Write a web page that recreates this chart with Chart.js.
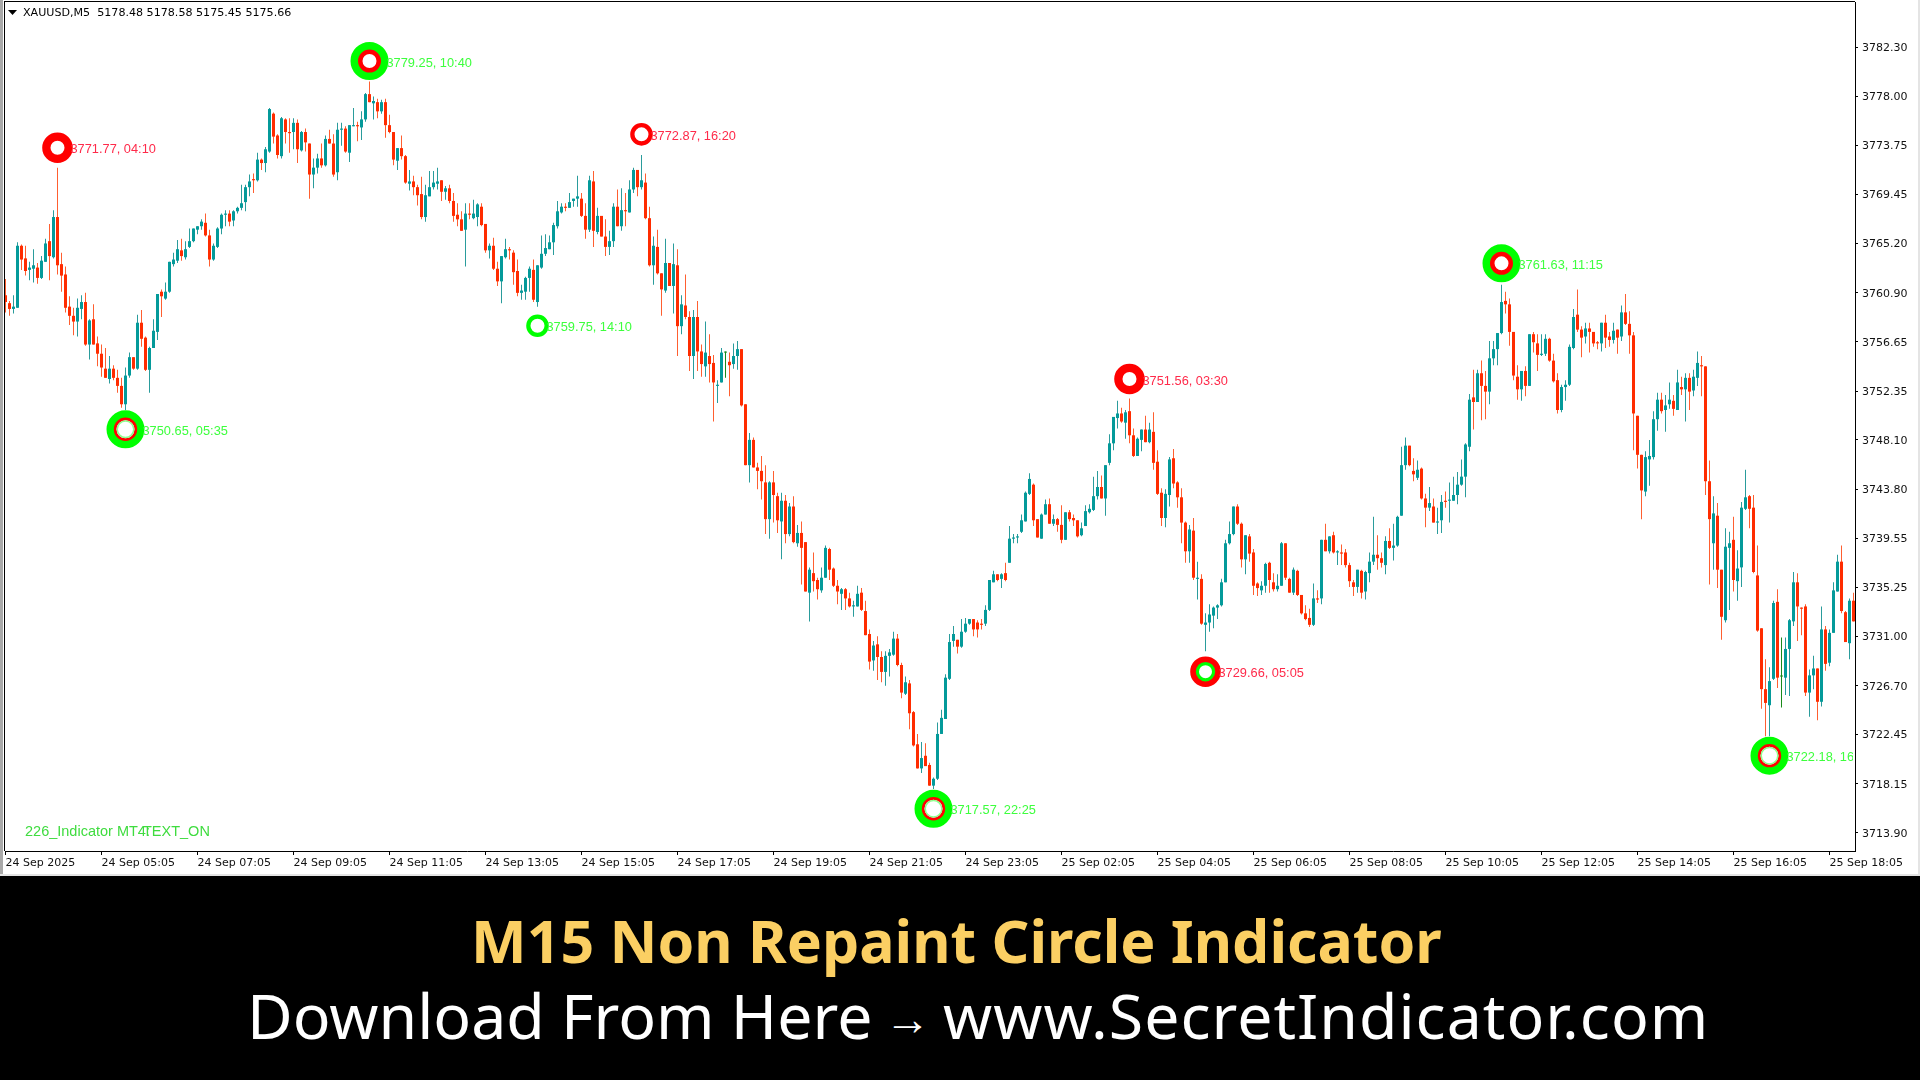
<!DOCTYPE html>
<html>
<head>
<meta charset="utf-8">
<title>M15 Non Repaint Circle Indicator</title>
<script src="https://cdn.jsdelivr.net/npm/chart.js@4"></script>
<style>
	html, body { margin: 0; padding: 0; width: 1920px; height: 1080px; overflow: hidden; background: #fff; }
	#chart { display: block; }
	#banner { position: absolute; left: 0; top: 876px; width: 1920px; height: 204px; background: #000; font-family: "Noto Sans", sans-serif; }
	#banner div { position: absolute; white-space: nowrap; }
	#title { left: 471px; top: 26px; font-size: 59px; line-height: 76px; font-weight: 700; color: #fbcf63; }
	#subtitle { left: 247px; top: 99px; font-size: 62.6px; line-height: 80px; font-weight: 400; color: #fff; }
	#subtitle .arrow { font-size: 46px; font-weight: 700; position: relative; top: -4px; margin: 0 -4px; }
	#subtitle .url { letter-spacing: 1px; }
</style>
</head>
<body>
<canvas id="chart" width="1920" height="876"></canvas>
<div id="banner">
	<div id="title">M15 Non Repaint Circle Indicator</div>
	<div id="subtitle">Download From Here <span class="arrow">→</span> <span class="url">www.SecretIndicator.com</span></div>
</div>
<script>
// XAUUSD M5 prices, one entry per bar
const highs = [
	3762.1, 3760.2, 3760.7, 3765.3, 3765.1, 3765.0, 3763.6, 3764.7, 3763.5, 3764.1,
	3765.6, 3766.9, 3768.1, 3771.8, 3764.4, 3763.2, 3760.6, 3759.6, 3760.4, 3760.7,
	3760.9, 3758.6, 3759.9, 3757.1, 3756.4, 3756.1, 3755.4, 3754.6, 3754.2, 3753.5,
	3754.4, 3755.7, 3755.3, 3759.0, 3759.4, 3757.1, 3756.2, 3758.6, 3760.8, 3761.2,
	3761.8, 3763.6, 3764.4, 3765.5, 3765.6, 3765.4, 3766.5, 3766.5, 3766.7, 3767.3,
	3767.8, 3766.4, 3765.2, 3766.6, 3767.8, 3768.1, 3768.1, 3768.1, 3768.4, 3770.3,
	3770.3, 3771.2, 3771.3, 3773.1, 3772.6, 3773.6, 3777.0, 3776.6, 3774.7, 3776.2,
	3776.1, 3776.1, 3776.1, 3776.0, 3775.0, 3775.2, 3773.9, 3772.6, 3773.0, 3773.9,
	3774.6, 3775.1, 3774.7, 3775.7, 3775.7, 3775.4, 3775.5, 3777.0, 3775.8, 3776.7,
	3778.3, 3779.3, 3778.0, 3777.8, 3777.7, 3777.8, 3776.4, 3774.9, 3773.5, 3774.6,
	3772.9, 3771.6, 3771.1, 3770.3, 3771.0, 3770.3, 3771.5, 3771.5, 3771.8, 3770.7,
	3770.2, 3770.3, 3769.6, 3768.7, 3768.0, 3768.7, 3768.7, 3769.0, 3768.7, 3768.7,
	3766.9, 3765.2, 3765.7, 3763.6, 3764.1, 3765.6, 3764.9, 3764.6, 3763.8, 3761.6,
	3762.3, 3763.2, 3763.8, 3763.3, 3765.9, 3766.0, 3765.9, 3767.0, 3768.9, 3768.7,
	3768.7, 3769.6, 3769.1, 3771.1, 3769.6, 3768.7, 3771.1, 3771.5, 3768.3, 3767.6,
	3767.3, 3766.3, 3768.7, 3769.9, 3770.0, 3769.6, 3770.7, 3771.8, 3771.6, 3772.9,
	3771.3, 3768.4, 3765.8, 3766.4, 3762.6, 3765.6, 3763.5, 3765.2, 3764.7, 3760.7,
	3762.5, 3759.3, 3759.4, 3760.2, 3756.4, 3758.4, 3757.3, 3755.5, 3753.3, 3756.1,
	3755.8, 3755.7, 3756.5, 3756.7, 3756.0, 3751.2, 3748.7, 3748.3, 3746.1, 3746.7,
	3745.9, 3744.5, 3745.4, 3743.5, 3743.5, 3743.3, 3742.6, 3743.2, 3740.7, 3741.0,
	3739.2, 3737.0, 3738.3, 3736.1, 3737.0, 3738.9, 3738.7, 3737.0, 3735.9, 3735.2,
	3735.2, 3734.8, 3734.1, 3735.4, 3735.2, 3734.1, 3731.6, 3730.6, 3731.0, 3729.7,
	3729.7, 3729.9, 3731.4, 3731.2, 3728.7, 3727.5, 3727.2, 3724.5, 3722.5, 3721.8,
	3721.7, 3720.0, 3718.7, 3723.5, 3724.6, 3727.7, 3731.2, 3731.9, 3730.7, 3732.5,
	3732.6, 3732.5, 3732.5, 3732.4, 3732.5, 3733.7, 3735.9, 3736.7, 3736.4, 3736.5,
	3737.4, 3740.6, 3739.9, 3739.9, 3741.6, 3743.6, 3745.2, 3744.3, 3741.2, 3741.7,
	3742.9, 3743.0, 3741.6, 3741.3, 3742.4, 3741.8, 3742.0, 3741.6, 3741.1, 3740.9,
	3742.4, 3742.5, 3744.9, 3745.4, 3745.0, 3745.9, 3748.6, 3750.1, 3751.5, 3750.9,
	3750.7, 3751.7, 3749.1, 3748.3, 3749.0, 3750.2, 3749.6, 3750.5, 3747.2, 3743.9,
	3743.8, 3746.6, 3747.3, 3744.5, 3743.9, 3741.0, 3740.7, 3741.3, 3737.5, 3736.4,
	3733.0, 3733.8, 3733.6, 3733.8, 3736.0, 3739.4, 3741.0, 3742.3, 3742.5, 3740.9,
	3739.8, 3739.9, 3738.6, 3735.7, 3735.8, 3737.4, 3737.5, 3736.5, 3736.4, 3739.2,
	3739.1, 3736.1, 3737.0, 3736.8, 3734.6, 3733.7, 3733.4, 3735.6, 3735.0, 3739.4,
	3740.8, 3739.7, 3740.1, 3738.5, 3739.0, 3738.6, 3737.4, 3735.9, 3736.8, 3736.8,
	3736.7, 3738.3, 3741.4, 3739.8, 3738.3, 3739.7, 3740.4, 3740.8, 3741.5, 3747.5,
	3748.3, 3747.6, 3746.5, 3746.3, 3745.7, 3743.4, 3744.0, 3743.0, 3742.2, 3743.3,
	3743.6, 3744.4, 3744.9, 3745.3, 3746.4, 3747.8, 3752.1, 3754.2, 3754.2, 3755.0,
	3754.1, 3756.7, 3756.7, 3757.4, 3761.6, 3761.0, 3760.4, 3757.5, 3754.6, 3754.1,
	3754.5, 3757.3, 3757.5, 3757.3, 3757.3, 3757.3, 3757.0, 3755.6, 3753.9, 3752.9,
	3753.3, 3756.4, 3759.5, 3761.2, 3758.0, 3758.3, 3758.3, 3757.5, 3756.7, 3758.3,
	3759.0, 3757.5, 3758.3, 3757.7, 3759.8, 3760.8, 3759.3, 3757.5, 3750.2, 3746.8,
	3747.1, 3748.1, 3750.6, 3752.2, 3752.2, 3752.0, 3753.1, 3752.0, 3754.2, 3753.6,
	3753.9, 3753.9, 3754.2, 3755.8, 3755.4, 3754.5, 3746.3, 3743.2, 3742.6, 3736.8,
	3740.4, 3740.1, 3741.4, 3738.5, 3742.7, 3745.5, 3743.3, 3743.3, 3738.9, 3731.7,
	3729.0, 3728.3, 3734.1, 3735.1, 3730.9, 3730.9, 3732.5, 3736.6, 3736.5, 3733.5,
	3733.8, 3728.1, 3729.3, 3728.2, 3733.6, 3731.9, 3731.6, 3735.7, 3738.1, 3738.9,
	3733.2, 3734.3, 3734.8
];
const lows = [
	3759.2, 3758.9, 3759.1, 3759.6, 3762.9, 3762.4, 3762.0, 3761.8, 3761.7, 3762.1,
	3763.6, 3762.0, 3763.9, 3762.5, 3761.0, 3759.2, 3758.1, 3757.2, 3757.1, 3758.6,
	3756.3, 3755.1, 3756.4, 3754.5, 3753.6, 3753.5, 3753.0, 3753.3, 3752.2, 3750.9,
	3750.7, 3753.5, 3754.2, 3754.2, 3756.2, 3754.1, 3752.2, 3756.1, 3756.8, 3758.8,
	3760.3, 3760.9, 3763.2, 3763.5, 3763.7, 3763.8, 3764.8, 3765.3, 3766.0, 3766.4,
	3765.8, 3763.2, 3763.7, 3764.8, 3766.0, 3766.7, 3766.7, 3766.7, 3767.8, 3768.1,
	3768.0, 3769.3, 3769.6, 3770.6, 3771.6, 3771.4, 3773.1, 3773.9, 3772.6, 3772.6,
	3773.9, 3773.1, 3773.4, 3772.2, 3773.2, 3773.2, 3769.1, 3770.0, 3771.3, 3771.8,
	3771.9, 3773.9, 3771.0, 3770.7, 3773.7, 3773.1, 3772.3, 3775.4, 3774.1, 3774.2,
	3775.8, 3777.5, 3776.0, 3776.1, 3776.5, 3774.4, 3774.8, 3772.0, 3771.6, 3772.5,
	3770.4, 3769.8, 3769.4, 3768.5, 3767.3, 3767.1, 3769.3, 3769.9, 3769.9, 3768.9,
	3769.0, 3768.7, 3767.1, 3766.7, 3766.3, 3763.2, 3767.3, 3767.3, 3766.7, 3766.7,
	3764.4, 3763.9, 3762.9, 3761.5, 3760.0, 3763.9, 3763.8, 3761.6, 3760.6, 3760.3,
	3760.3, 3761.0, 3760.1, 3759.7, 3763.0, 3764.1, 3764.7, 3764.2, 3766.5, 3767.8,
	3768.0, 3768.3, 3768.4, 3768.4, 3767.5, 3765.6, 3766.2, 3764.9, 3766.0, 3765.8,
	3764.1, 3764.2, 3764.9, 3766.7, 3766.3, 3766.7, 3767.9, 3769.6, 3769.3, 3769.9,
	3767.3, 3763.2, 3761.6, 3762.5, 3758.9, 3760.9, 3761.5, 3759.1, 3755.4, 3757.3,
	3758.6, 3754.1, 3753.4, 3754.1, 3753.6, 3753.6, 3753.1, 3749.7, 3751.3, 3753.1,
	3753.5, 3751.9, 3754.3, 3754.2, 3751.0, 3745.9, 3744.4, 3745.7, 3743.8, 3742.9,
	3739.9, 3739.5, 3740.9, 3740.0, 3737.7, 3739.1, 3739.7, 3739.1, 3738.8, 3735.5,
	3734.9, 3732.3, 3734.9, 3734.2, 3734.8, 3736.1, 3735.9, 3735.3, 3733.8, 3733.3,
	3733.3, 3733.5, 3732.7, 3733.6, 3733.2, 3731.1, 3728.1, 3728.0, 3727.2, 3727.0,
	3726.7, 3727.5, 3729.3, 3728.4, 3725.6, 3725.9, 3722.9, 3721.4, 3719.5, 3719.1,
	3719.7, 3718.0, 3717.7, 3718.5, 3722.5, 3723.8, 3727.2, 3730.1, 3729.5, 3730.0,
	3731.3, 3732.0, 3731.0, 3730.9, 3731.6, 3731.9, 3733.2, 3735.7, 3735.8, 3735.2,
	3735.8, 3737.4, 3739.1, 3739.1, 3740.0, 3741.0, 3743.3, 3740.6, 3739.6, 3739.5,
	3741.6, 3740.8, 3740.6, 3740.1, 3739.1, 3739.4, 3741.0, 3740.6, 3739.6, 3739.7,
	3740.6, 3741.7, 3741.9, 3742.9, 3743.0, 3741.5, 3745.9, 3747.2, 3749.1, 3749.6,
	3748.2, 3747.8, 3746.6, 3746.7, 3747.1, 3747.9, 3747.8, 3745.5, 3743.3, 3740.6,
	3740.5, 3742.3, 3743.9, 3742.2, 3739.1, 3737.4, 3737.4, 3735.9, 3734.2, 3732.0,
	3729.7, 3731.4, 3731.7, 3732.5, 3733.6, 3735.7, 3739.0, 3739.8, 3740.7, 3737.0,
	3736.4, 3737.5, 3734.6, 3734.5, 3734.6, 3734.8, 3734.8, 3734.9, 3734.9, 3735.4,
	3735.9, 3734.8, 3734.6, 3734.5, 3732.9, 3732.4, 3731.8, 3731.9, 3733.9, 3733.8,
	3738.4, 3738.2, 3738.2, 3737.2, 3737.2, 3737.0, 3735.3, 3734.5, 3734.8, 3734.3,
	3734.2, 3735.7, 3737.2, 3736.8, 3737.0, 3736.4, 3738.6, 3737.6, 3738.8, 3741.5,
	3745.5, 3745.8, 3744.5, 3744.6, 3742.9, 3740.5, 3741.9, 3740.9, 3739.9, 3740.0,
	3742.2, 3740.9, 3742.8, 3742.5, 3744.1, 3743.1, 3747.1, 3749.0, 3751.4, 3749.8,
	3749.9, 3751.2, 3754.6, 3754.6, 3757.3, 3759.1, 3756.3, 3753.3, 3751.6, 3751.5,
	3751.9, 3752.8, 3755.7, 3754.1, 3755.4, 3755.4, 3754.9, 3753.1, 3750.4, 3750.5,
	3751.5, 3752.8, 3756.0, 3757.5, 3755.3, 3756.5, 3755.7, 3756.2, 3756.0, 3755.8,
	3756.1, 3756.2, 3756.5, 3755.6, 3756.7, 3758.1, 3755.6, 3747.2, 3745.6, 3741.2,
	3743.2, 3744.1, 3746.4, 3748.9, 3750.4, 3748.8, 3750.8, 3750.2, 3750.7, 3752.0,
	3749.7, 3750.7, 3751.9, 3752.8, 3751.9, 3743.3, 3735.5, 3736.8, 3735.2, 3730.7,
	3732.2, 3733.3, 3734.9, 3734.1, 3735.3, 3742.0, 3740.4, 3736.5, 3731.4, 3724.7,
	3722.3, 3722.3, 3727.2, 3726.5, 3724.8, 3725.9, 3725.8, 3731.9, 3730.6, 3731.1,
	3725.8, 3724.0, 3726.4, 3723.7, 3724.9, 3728.0, 3728.4, 3731.3, 3734.9, 3733.0,
	3730.5, 3729.0, 3732.3
];
const opens = [
	3760.7, 3760.0, 3759.5, 3759.6, 3765.0, 3763.9, 3762.9, 3763.0, 3763.1, 3762.2,
	3763.6, 3765.4, 3764.0, 3767.5, 3763.4, 3762.5, 3759.7, 3758.9, 3758.4, 3759.5,
	3760.1, 3756.4, 3758.6, 3756.5, 3755.6, 3754.3, 3753.4, 3754.3, 3753.5, 3752.8,
	3751.2, 3753.7, 3755.3, 3754.3, 3758.3, 3757.0, 3754.2, 3756.1, 3757.5, 3761.0,
	3760.4, 3761.0, 3763.4, 3763.7, 3764.6, 3764.0, 3764.9, 3765.4, 3766.4, 3766.7,
	3767.0, 3765.9, 3763.8, 3764.9, 3766.5, 3767.7, 3767.8, 3767.2, 3768.0, 3768.3,
	3768.8, 3770.1, 3770.8, 3770.7, 3772.5, 3772.2, 3773.2, 3776.5, 3774.6, 3772.8,
	3776.0, 3774.9, 3774.9, 3775.7, 3773.3, 3774.9, 3773.9, 3771.2, 3771.8, 3772.6,
	3772.0, 3774.3, 3773.9, 3771.4, 3775.1, 3775.2, 3773.1, 3775.4, 3775.5, 3775.3,
	3776.0, 3778.2, 3777.4, 3777.5, 3776.7, 3777.5, 3775.5, 3774.9, 3772.4, 3773.5,
	3772.8, 3770.4, 3770.6, 3770.1, 3769.5, 3767.5, 3769.3, 3770.1, 3770.4, 3770.7,
	3769.7, 3770.0, 3768.9, 3767.7, 3767.3, 3766.4, 3767.8, 3767.4, 3767.5, 3768.4,
	3766.9, 3764.6, 3765.0, 3763.0, 3761.9, 3764.0, 3764.7, 3764.4, 3762.8, 3760.9,
	3761.0, 3762.2, 3762.9, 3760.1, 3763.1, 3764.3, 3764.7, 3765.3, 3766.7, 3767.9,
	3768.4, 3768.3, 3768.9, 3769.1, 3769.1, 3767.6, 3766.4, 3770.6, 3766.2, 3767.6,
	3765.8, 3764.9, 3765.4, 3768.4, 3766.7, 3768.1, 3767.9, 3769.9, 3771.6, 3770.1,
	3770.5, 3767.4, 3763.3, 3764.9, 3762.6, 3761.1, 3763.5, 3761.5, 3763.3, 3758.0,
	3759.8, 3758.8, 3755.4, 3758.8, 3755.8, 3754.5, 3755.4, 3754.8, 3752.8, 3753.1,
	3755.7, 3754.9, 3754.7, 3755.4, 3756.0, 3751.2, 3745.9, 3748.1, 3745.7, 3745.4,
	3744.4, 3741.2, 3744.4, 3743.2, 3741.0, 3742.8, 3739.9, 3742.3, 3739.1, 3740.0,
	3739.2, 3734.8, 3736.5, 3735.9, 3735.0, 3736.1, 3738.6, 3736.9, 3735.4, 3734.7,
	3735.1, 3734.3, 3733.6, 3733.6, 3734.8, 3733.2, 3731.2, 3728.9, 3730.3, 3729.2,
	3727.9, 3729.3, 3729.4, 3730.8, 3728.5, 3726.0, 3726.9, 3724.4, 3721.6, 3719.5,
	3720.6, 3719.8, 3718.0, 3718.6, 3722.5, 3723.8, 3727.3, 3730.6, 3730.7, 3730.1,
	3731.4, 3732.1, 3732.5, 3732.2, 3732.1, 3732.1, 3733.3, 3735.7, 3736.4, 3736.0,
	3736.5, 3737.4, 3739.5, 3739.6, 3740.1, 3741.0, 3743.4, 3744.2, 3741.2, 3739.5,
	3741.6, 3742.5, 3740.8, 3741.2, 3740.7, 3739.4, 3741.8, 3741.3, 3741.1, 3739.8,
	3740.6, 3741.8, 3742.0, 3743.2, 3744.0, 3743.0, 3746.1, 3747.8, 3750.0, 3750.4,
	3749.6, 3750.6, 3748.5, 3746.7, 3748.1, 3749.0, 3747.9, 3748.8, 3746.2, 3743.5,
	3741.3, 3743.3, 3746.5, 3744.4, 3743.1, 3740.9, 3738.4, 3740.2, 3736.0, 3736.0,
	3732.0, 3732.2, 3732.8, 3733.5, 3733.7, 3735.7, 3739.1, 3739.9, 3742.3, 3740.8,
	3737.7, 3739.7, 3738.3, 3735.6, 3735.0, 3735.4, 3737.4, 3735.7, 3735.1, 3735.4,
	3739.1, 3736.0, 3734.8, 3736.7, 3734.6, 3733.0, 3732.6, 3732.0, 3734.3, 3734.3,
	3739.4, 3738.4, 3739.8, 3738.3, 3738.3, 3738.3, 3737.2, 3735.7, 3735.3, 3736.7,
	3734.9, 3736.5, 3737.5, 3738.1, 3737.8, 3737.2, 3739.3, 3738.7, 3738.9, 3741.5,
	3745.9, 3747.6, 3745.4, 3744.8, 3745.6, 3743.0, 3742.2, 3742.3, 3740.9, 3741.1,
	3742.8, 3742.8, 3742.8, 3743.3, 3744.2, 3744.9, 3747.5, 3751.8, 3751.4, 3753.9,
	3752.8, 3752.3, 3755.2, 3756.0, 3757.4, 3760.2, 3759.9, 3757.5, 3753.6, 3752.5,
	3754.1, 3752.8, 3757.3, 3756.5, 3755.5, 3755.6, 3756.9, 3755.0, 3753.3, 3750.7,
	3752.7, 3752.9, 3756.1, 3759.0, 3757.7, 3757.1, 3757.8, 3757.5, 3756.6, 3756.5,
	3758.3, 3757.1, 3756.8, 3757.7, 3757.1, 3759.2, 3758.2, 3757.2, 3750.2, 3746.8,
	3743.6, 3746.4, 3746.6, 3749.9, 3751.6, 3750.7, 3751.2, 3751.5, 3750.7, 3752.7,
	3752.5, 3753.5, 3752.4, 3753.5, 3754.6, 3754.5, 3744.5, 3739.1, 3741.5, 3736.8,
	3732.4, 3738.7, 3739.4, 3735.8, 3737.0, 3742.1, 3743.2, 3742.2, 3736.3, 3731.7,
	3726.4, 3725.0, 3727.3, 3734.0, 3727.5, 3727.4, 3729.9, 3732.3, 3735.7, 3733.5,
	3733.6, 3726.1, 3727.6, 3728.2, 3725.3, 3731.6, 3728.7, 3731.3, 3734.9, 3737.5,
	3733.1, 3730.4, 3734.1
];
const closes = [
	3760.1, 3759.5, 3759.7, 3765.0, 3763.8, 3762.8, 3763.1, 3763.3, 3762.2, 3763.7,
	3765.2, 3764.1, 3767.5, 3763.3, 3762.4, 3759.6, 3758.9, 3758.4, 3759.6, 3760.1,
	3756.4, 3758.5, 3756.4, 3755.6, 3754.4, 3753.5, 3754.3, 3753.5, 3752.8, 3751.2,
	3753.7, 3755.3, 3754.3, 3758.3, 3756.9, 3754.2, 3756.1, 3757.6, 3760.8, 3760.6,
	3761.0, 3763.6, 3763.8, 3764.7, 3764.1, 3764.7, 3765.4, 3766.5, 3766.7, 3767.1,
	3765.9, 3763.8, 3765.0, 3766.5, 3767.7, 3767.8, 3767.1, 3768.0, 3768.3, 3768.7,
	3770.1, 3770.6, 3770.7, 3772.5, 3772.2, 3773.4, 3776.9, 3774.5, 3772.9, 3776.1,
	3774.9, 3774.8, 3775.7, 3773.4, 3774.9, 3774.0, 3771.2, 3771.8, 3772.6, 3772.0,
	3774.3, 3773.9, 3771.2, 3775.1, 3775.2, 3773.2, 3775.5, 3775.5, 3775.4, 3776.0,
	3778.2, 3777.5, 3777.6, 3776.7, 3777.5, 3775.5, 3774.9, 3772.5, 3773.5, 3772.8,
	3770.5, 3770.6, 3770.1, 3769.4, 3767.5, 3769.4, 3770.1, 3770.5, 3770.6, 3769.7,
	3770.0, 3768.9, 3767.6, 3767.3, 3766.3, 3767.8, 3767.7, 3767.8, 3768.6, 3766.8,
	3764.6, 3765.0, 3763.0, 3761.9, 3764.1, 3764.7, 3764.6, 3762.7, 3760.9, 3761.1,
	3762.2, 3763.0, 3760.3, 3763.3, 3764.3, 3764.8, 3765.3, 3766.8, 3768.0, 3768.4,
	3768.3, 3768.8, 3769.1, 3769.3, 3767.6, 3766.4, 3770.7, 3766.3, 3767.6, 3765.8,
	3764.9, 3765.4, 3768.4, 3766.7, 3768.1, 3768.0, 3769.9, 3771.6, 3770.1, 3770.7,
	3767.4, 3763.3, 3765.0, 3762.6, 3761.2, 3763.5, 3761.5, 3763.4, 3758.0, 3759.9,
	3758.8, 3755.4, 3758.8, 3755.8, 3754.7, 3755.7, 3754.7, 3753.1, 3752.9, 3755.7,
	3755.7, 3754.6, 3755.4, 3756.0, 3751.1, 3745.9, 3748.1, 3745.7, 3745.4, 3744.5,
	3741.2, 3744.4, 3743.3, 3741.1, 3742.8, 3739.9, 3742.3, 3739.2, 3740.0, 3738.7,
	3734.9, 3736.8, 3735.8, 3735.1, 3736.1, 3738.7, 3736.8, 3735.4, 3734.9, 3735.1,
	3734.3, 3733.6, 3733.7, 3734.7, 3733.3, 3731.1, 3728.8, 3730.2, 3729.2, 3727.9,
	3729.3, 3729.6, 3730.8, 3728.5, 3726.1, 3727.0, 3724.3, 3721.5, 3719.5, 3720.4,
	3719.7, 3718.0, 3718.6, 3722.5, 3723.9, 3727.4, 3730.5, 3731.2, 3730.1, 3731.4,
	3732.1, 3732.5, 3731.6, 3731.6, 3732.0, 3733.3, 3735.9, 3736.4, 3735.9, 3736.4,
	3735.9, 3739.5, 3739.6, 3739.7, 3741.1, 3743.5, 3744.7, 3741.1, 3739.6, 3741.6,
	3742.5, 3740.8, 3741.2, 3740.7, 3739.4, 3741.8, 3741.2, 3741.1, 3739.7, 3740.4,
	3741.9, 3742.1, 3743.2, 3744.0, 3743.0, 3745.9, 3747.8, 3750.1, 3750.4, 3749.7,
	3750.5, 3748.5, 3746.7, 3748.2, 3749.0, 3747.9, 3749.0, 3746.1, 3743.4, 3741.3,
	3743.4, 3746.4, 3744.3, 3743.1, 3740.9, 3738.4, 3740.3, 3736.1, 3736.1, 3732.1,
	3732.2, 3732.9, 3733.5, 3733.7, 3735.7, 3739.1, 3739.9, 3742.3, 3740.8, 3737.7,
	3739.8, 3738.2, 3735.4, 3735.2, 3735.4, 3737.3, 3735.9, 3735.1, 3735.4, 3739.1,
	3736.1, 3734.8, 3736.8, 3734.6, 3733.0, 3732.5, 3732.0, 3734.3, 3734.2, 3739.4,
	3738.4, 3739.7, 3738.3, 3738.4, 3738.2, 3737.2, 3735.8, 3735.3, 3736.8, 3734.8,
	3736.6, 3737.5, 3738.1, 3737.8, 3737.4, 3739.3, 3738.7, 3738.9, 3741.4, 3745.9,
	3747.6, 3745.9, 3745.1, 3745.5, 3743.0, 3742.2, 3742.6, 3740.9, 3741.0, 3742.7,
	3742.7, 3742.9, 3743.3, 3744.2, 3744.9, 3747.7, 3751.6, 3751.4, 3753.9, 3752.8,
	3752.3, 3755.2, 3756.0, 3757.4, 3760.1, 3759.9, 3757.5, 3753.7, 3752.5, 3754.1,
	3752.8, 3757.3, 3756.6, 3755.5, 3755.6, 3756.9, 3755.0, 3753.2, 3750.7, 3752.7,
	3752.9, 3756.2, 3758.8, 3757.7, 3757.0, 3757.8, 3757.5, 3756.5, 3756.5, 3758.3,
	3757.0, 3756.8, 3757.6, 3757.0, 3759.2, 3758.2, 3757.2, 3750.4, 3746.8, 3743.7,
	3746.6, 3746.7, 3749.9, 3751.6, 3750.6, 3751.1, 3751.6, 3750.8, 3753.1, 3752.5,
	3753.5, 3752.3, 3753.6, 3754.8, 3754.5, 3744.5, 3741.2, 3741.7, 3736.8, 3732.7,
	3738.8, 3739.1, 3735.9, 3736.9, 3742.2, 3743.1, 3742.1, 3736.6, 3731.5, 3726.4,
	3725.2, 3727.1, 3733.9, 3727.4, 3727.5, 3729.9, 3732.4, 3735.7, 3733.6, 3733.4,
	3726.1, 3727.6, 3728.2, 3725.3, 3731.6, 3728.6, 3731.3, 3735.0, 3737.5, 3733.2,
	3730.5, 3734.1, 3732.3
];

// Price axis
const priceTicks = [3782.30, 3778.00, 3773.75, 3769.45, 3765.20, 3760.90, 3756.65, 3752.35, 3748.10, 3743.80, 3739.55, 3735.25, 3731.00, 3726.70, 3722.45, 3718.15, 3713.90];

// Time axis, a label every 24 bars
const timeTickBars = [0, 24, 48, 72, 96, 120, 144, 168, 192, 216, 240, 264, 288, 312, 336, 360, 384, 408, 432, 456];
const timeTickLabels = ['24 Sep 2025', '24 Sep 05:05', '24 Sep 07:05', '24 Sep 09:05', '24 Sep 11:05', '24 Sep 13:05', '24 Sep 15:05', '24 Sep 17:05', '24 Sep 19:05', '24 Sep 21:05', '24 Sep 23:05', '25 Sep 02:05', '25 Sep 04:05', '25 Sep 06:05', '25 Sep 08:05', '25 Sep 10:05', '25 Sep 12:05', '25 Sep 14:05', '25 Sep 16:05', '25 Sep 18:05'];

// Indicator circles
const redCircleBars = [13, 281, 300];
const redCirclePrices = [3773.53, 3753.40, 3727.92];
const redCircleTexts = ['3771.77, 04:10', '3751.56, 03:30', '3729.66, 05:05'];
const greenCircleBars = [30, 91, 232, 374, 441];
const greenCirclePrices = [3749.02, 3781.08, 3715.99, 3763.47, 3720.61];
const greenCircleTexts = ['3750.65, 05:35', '3779.25, 10:40', '3717.57, 22:25', '3761.63, 11:15', '3722.18, 16:25'];
const smallRedBars = [159];
const smallRedPrices = [3774.70];
const smallRedTexts = ['3772.87, 16:20'];
const smallGreenBars = [133];
const smallGreenPrices = [3758.04];
const smallGreenTexts = ['3759.75, 14:10'];

const UP_COLOR = '#049a9a';
const DOWN_COLOR = '#ff2c00';
const UP_WICK = '#2a9c9c';
const DOWN_WICK = '#ff5f30';
const DOJI_COLOR = '#1a8a1a';
const RING_RED = '#ff0000';
const RING_GREEN = '#00ff00';
const RING_PALE = '#8cff8c';
const TEXT_RED = '#ff2a4a';
const TEXT_GREEN = '#3dff3d';

function barColor(i, up, down) {
	if (closes[i] === opens[i]) return DOJI_COLOR;
	return closes[i] > opens[i] ? up : down;
}

const bodyData = opens.map((open, i) => ({ x: i, y: [open, closes[i]] }));
const wickData = lows.map((low, i) => ({ x: i, y: [low, highs[i]] }));

// a ring drawn as a point: stroke sits on the radius, so take the middle of hole and edge
function ringDataset(bars, prices, outer, hole, color, order) {
	return {
		type: 'line',
		showLine: false,
		order: order,
		clip: false,
		data: bars.map((bar, i) => ({ x: bar, y: prices[i] })),
		pointStyle: 'circle',
		pointRadius: (outer + hole) / 2,
		pointBorderWidth: outer - hole,
		pointBorderColor: color,
		pointBackgroundColor: '#fff'
	};
}

// text next to each circle, gap is measured from the circle centre
const circleTexts = [
	{ bars: redCircleBars, prices: redCirclePrices, texts: redCircleTexts, gap: 13, color: TEXT_RED },
	{ bars: greenCircleBars, prices: greenCirclePrices, texts: greenCircleTexts, gap: 17, color: TEXT_GREEN },
	{ bars: smallRedBars, prices: smallRedPrices, texts: smallRedTexts, gap: 9, color: TEXT_RED },
	{ bars: smallGreenBars, prices: smallGreenPrices, texts: smallGreenTexts, gap: 9, color: TEXT_GREEN }
];

const terminalFrame = {
	id: 'terminalFrame',
	beforeDraw(chart) {
		const ctx = chart.ctx;
		ctx.save();
		ctx.fillStyle = '#fff';
		ctx.fillRect(0, 0, 1920, 876);
		ctx.fillStyle = '#a9a9a9';
		ctx.fillRect(0, 0, 3, 876);
		ctx.fillStyle = '#e4e4e4';
		ctx.fillRect(1918, 0, 2, 876);
		ctx.fillRect(0, 874, 1920, 2);
		ctx.restore();
	},
	afterDatasetsDraw(chart) {
		const ctx = chart.ctx;
		const area = chart.chartArea;
		const xScale = chart.scales.x;
		const yScale = chart.scales.y;
		ctx.save();

		ctx.fillStyle = '#000';
		ctx.fillRect(area.left - 1, area.top - 1, area.right - area.left + 1, 1);
		ctx.fillRect(area.left - 1, area.top - 1, 1, area.bottom - area.top + 1);

		// header
		ctx.beginPath();
		ctx.moveTo(8, 10);
		ctx.lineTo(17, 10);
		ctx.lineTo(12.5, 15);
		ctx.closePath();
		ctx.fill();
		ctx.font = '11.1px "DejaVu Sans"';
		ctx.textBaseline = 'middle';
		ctx.fillText('XAUUSD,M5  5178.48 5178.58 5175.45 5175.66', 23, 13);

		// indicator name, the two texts overlap on the original too
		ctx.font = '14.5px "Liberation Sans"';
		ctx.fillStyle = '#3fdc3f';
		ctx.fillText('226_Indicator MT4:', 25, 832);
		ctx.fillText('TEXT_ON', 143, 832);

		ctx.beginPath();
		ctx.rect(area.left, area.top, area.right - area.left - 2, area.bottom - area.top);
		ctx.clip();
		ctx.font = '12.8px "Liberation Sans"';
		circleTexts.forEach(group => {
			ctx.fillStyle = group.color;
			group.bars.forEach((bar, i) => {
				ctx.fillText(group.texts[i], xScale.getPixelForValue(bar) + group.gap, yScale.getPixelForValue(group.prices[i]) + 2);
			});
		});
		ctx.restore();
	}
};

new Chart(document.getElementById('chart'), {
	type: 'bar',
	data: {
		datasets: [
			ringDataset(smallGreenBars, smallGreenPrices, 11.3, 7, RING_GREEN, 1),
			ringDataset(smallRedBars, smallRedPrices, 11.3, 7, RING_RED, 1),
			ringDataset([300], [3727.92], 9.7, 6.5, RING_GREEN, 1),
			ringDataset([30, 232, 441], [3749.02, 3715.99, 3720.61], 9, 7.5, RING_PALE, 0),
			ringDataset([91, 374], [3781.08, 3763.47], 11.5, 7, RING_RED, 1),
			ringDataset([30, 232, 441], [3749.02, 3715.99, 3720.61], 11.7, 9, RING_RED, 1),
			ringDataset(greenCircleBars, greenCirclePrices, 19, 7, RING_GREEN, 2),
			ringDataset(redCircleBars, redCirclePrices, 15.3, 7, RING_RED, 2),
			{
				data: bodyData,
				order: 3,
				grouped: false,
				barThickness: 3,
				minBarLength: 1,
				inflateAmount: 0,
				borderWidth: 0,
				backgroundColor: ctx => barColor(ctx.dataIndex, UP_COLOR, DOWN_COLOR)
			},
			{
				data: wickData,
				order: 4,
				grouped: false,
				barThickness: 1,
				inflateAmount: 0,
				borderWidth: 0,
				backgroundColor: ctx => barColor(ctx.dataIndex, UP_WICK, DOWN_WICK)
			}
		]
	},
	options: {
		responsive: false,
		devicePixelRatio: 1,
		animation: false,
		events: [],
		layout: { autoPadding: false, padding: { top: 2, left: 5, right: 0, bottom: 0 } },
		plugins: { legend: { display: false }, tooltip: { enabled: false } },
		scales: {
			x: {
				type: 'linear',
				offset: false,
				min: -0.125,
				max: 462.375,
				afterBuildTicks: axis => { axis.ticks = timeTickBars.map(bar => ({ value: bar })); },
				afterFit: axis => {
					axis.height = 25;
					axis.paddingLeft = 0;
					axis.paddingRight = 0;
				},
				border: { color: '#000', width: 1 },
				grid: { offset: false, drawOnChartArea: false, tickLength: 4, tickColor: '#000' },
				ticks: {
					autoSkip: false,
					maxRotation: 0,
					minRotation: 0,
					align: 'start',
					padding: 2,
					color: '#111',
					font: { family: 'DejaVu Sans', size: 11 },
					callback: value => timeTickLabels[timeTickBars.indexOf(value)]
				}
			},
			y: {
				position: 'right',
				min: 3712.31,
				max: 3786.22,
				afterBuildTicks: axis => { axis.ticks = priceTicks.map(price => ({ value: price })); },
				afterFit: axis => {
					axis.width = 65;
					axis.paddingTop = 0;
					axis.paddingBottom = 0;
				},
				border: { color: '#000', width: 1 },
				grid: { drawOnChartArea: false, tickLength: 3, tickColor: '#000' },
				ticks: {
					autoSkip: false,
					padding: 4,
					labelOffset: 1,
					color: '#111',
					font: { family: 'DejaVu Sans', size: 11 },
					callback: value => value.toFixed(2)
				}
			}
		}
	},
	plugins: [terminalFrame]
});
</script>
</body>
</html>
